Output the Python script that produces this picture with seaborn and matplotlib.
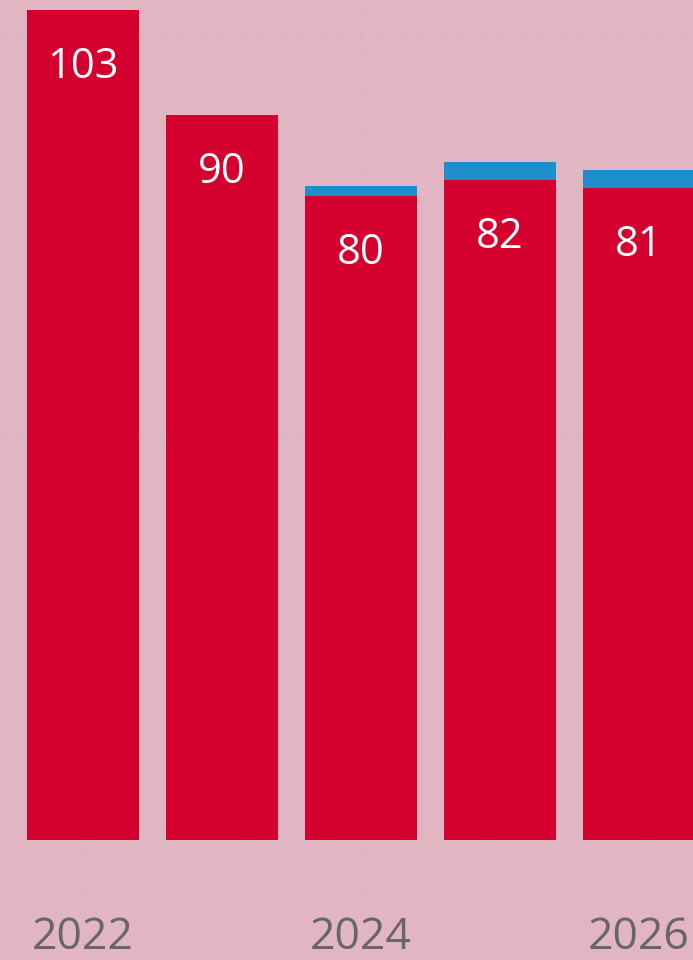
import matplotlib
matplotlib.use("Agg")
import matplotlib.pyplot as plt
import seaborn as sns
import pandas as pd

years = [2022, 2023, 2024, 2025, 2026]
red_values = [103, 90, 80, 82, 81]
blue_values = [0, 0, 1.2, 2.2, 2.2]
tick_years = [2022, 2024, 2026]

bg = '#E2B5C3'
red = '#D4002E'
blue = '#1E8FCB'

df = pd.DataFrame({'Year': years, 'Red': red_values, 'Blue': blue_values})
df['Total'] = df['Red'] + df['Blue']

sns.set_style("white")
plt.rcParams['font.family'] = ['Open Sans', 'DejaVu Sans']

fig = plt.figure(figsize=(6.93, 9.6), dpi=100, facecolor=bg)
ax = fig.add_axes([0, 67 / 960, 1, 893 / 960])
ax.set_facecolor(bg)

sns.barplot(data=df, x='Year', y='Total', native_scale=True, color=blue,
            width=0.8, saturation=1, linewidth=0, ax=ax, zorder=2)
sns.barplot(data=df, x='Year', y='Red', native_scale=True, color=red,
            width=0.8, saturation=1, linewidth=0, ax=ax, zorder=3)

# value labels inside the red part
for yr, v in zip(years, red_values):
    ax.annotate(f'{v}', (yr, v), xytext=(0, -41), textcoords='offset points',
                ha='center', va='center', color='white', fontsize=30, zorder=4)

ax.set_xlim(2021.403, 2026.388)
ax.set_ylim(-6.6, 104.3)
ax.set_yticks([0, 50, 100])
ax.set_xticks(tick_years)
ax.set_xticklabels([str(y) for y in tick_years])
ax.tick_params(axis='x', length=0, pad=16, labelsize=32, labelcolor='#666666')
ax.tick_params(axis='y', length=0, labelleft=False)
ax.set_xlabel('')
ax.set_ylabel('')

ax.set_axisbelow(True)
ax.grid(True, color='#BDBDBD', linewidth=1.8, linestyle=(0, (1, 7)))
sns.despine(ax=ax, left=True, bottom=True, top=True, right=True)

fig.savefig('out.png', dpi=100, facecolor=bg)
